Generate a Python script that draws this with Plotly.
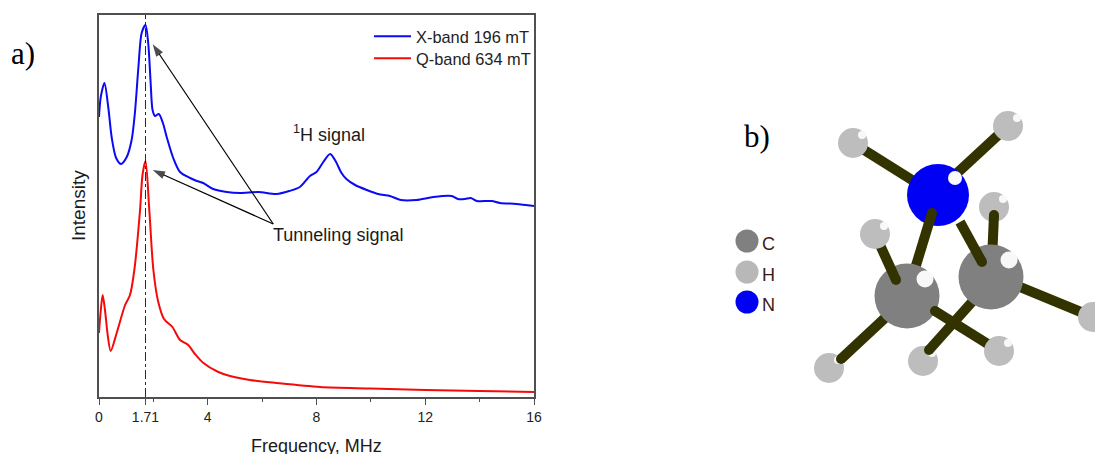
import plotly.graph_objects as go

# --- chart data (intensity in arbitrary units, frequency in MHz)
blue_name = "X-band 196 mT"
blue_x = [0, 0.06, 0.2, 0.34, 0.47, 0.63, 0.81, 1.02, 1.2, 1.32, 1.45, 1.57, 1.71, 1.81, 1.9, 1.97, 2.06, 2.2, 2.35, 2.49, 2.73,
          2.98, 3.35, 3.6, 3.83, 4.2, 4.7, 5.19, 5.86, 6.53, 7.0, 7.39, 7.76, 8.0, 8.25, 8.5, 8.68, 8.92, 9.1, 9.42,
          9.85, 10.27, 10.7, 11.1, 11.68, 12.3, 12.97, 13.2, 13.46, 13.67, 13.9, 14.44, 14.75, 15.35, 16]
blue_y = [280, 299, 314, 290, 259, 239, 233, 240, 257, 284, 330, 364, 372, 354, 314, 287, 281, 283, 274, 260, 239,
          225, 219, 216, 214, 208, 205, 204, 205, 203, 206, 210, 221, 225, 235, 243, 237, 224, 218, 212,
          207, 203, 201, 197, 197, 200, 201, 198, 198, 199, 196, 196, 194, 193, 191]
red_name = "Q-band 634 mT"
red_x = [0, 0.06, 0.135, 0.22, 0.32, 0.43, 0.65, 0.96, 1.14, 1.3, 1.51, 1.6, 1.71, 1.85, 2.0, 2.18, 2.39, 2.7, 2.98,
         3.28, 3.53, 3.84, 4.39, 4.82, 5.55, 6.53, 8.13, 10, 12, 14, 16]
red_y = [64, 85, 102, 87, 62, 46, 64, 92, 102, 127, 187, 222, 236, 187, 127, 95, 78, 70, 57,
         52, 43, 34, 25, 21, 17, 14, 10, 8.5, 7, 6, 5]
x_ticks = [0, 1.71, 4, 8, 12, 16]
x_tick_text = ["0", "1.71", "4", "8", "12", "16"]
x_minor = [2, 6, 10, 14]
marker_x = 1.71
arrow_tail = (6.41, 173)
arrow_tips = [(1.975, 352.7), (1.975, 227)]

# --- molecule scheme data (scheme units, y down)
h_back_x = [994, 923, 829]
h_back_y = [207, 361, 368]
h_front_x = [853, 1008, 875, 1093, 999]
h_front_y = [143, 126, 234, 317, 351]
n_atom = (938, 195)
c_atoms_x = [907, 991]
c_atoms_y = [296, 277]
key_labels = ["C", "H", "N"]
key_colors = ["#808080", "#b8b8b8", "#0000f5"]
key_y = [241, 272, 302]
back_bonds = [((853, 143), (912, 180)), ((1008, 126), (955, 175)), ((994, 215), (992, 260)),
              ((1093, 317), (1015, 285))]
mid_bonds = [((932, 213), (914, 272)), ((841, 359), (885, 318)), ((929, 350), (972, 302))]
front_bonds = [((896, 280), (875, 234)), ((935, 311), (999, 351)), ((982, 262), (960, 222))]

BOND = "#333300"
DARK = "#222222"

fig = go.Figure()

# --- panel a
fig.add_trace(go.Scatter(x=blue_x, y=blue_y, name=blue_name, mode="lines", legend="legend",
                         line=dict(color="#0a0af5", width=2, shape="spline", smoothing=0.8)))
fig.add_trace(go.Scatter(x=red_x, y=red_y, name=red_name, mode="lines", legend="legend2",
                         line=dict(color="#f50a0a", width=2, shape="spline", smoothing=0.8)))
fig.add_trace(go.Scatter(x=[marker_x, marker_x], y=[0, 382], mode="lines", showlegend=False,
                         line=dict(color="#111111", width=0.9, dash="dashdot")))
for tip in arrow_tips:
    fig.add_trace(go.Scatter(x=[arrow_tail[0], tip[0]], y=[arrow_tail[1], tip[1]], mode="lines+markers",
                             showlegend=False, line=dict(color="#000000", width=1.2),
                             marker=dict(symbol="arrow", angleref="previous", size=[0, 13], color="#000000",
                                         line=dict(width=0))))


def dot(xs, ys, size, color, opacity=1.0):
    fig.add_trace(go.Scatter(x=xs, y=ys, mode="markers", showlegend=False, xaxis="x2", yaxis="y2",
                             marker=dict(size=size, color=color, opacity=opacity, line=dict(width=0))))


def rods(pairs):
    for (a, b) in pairs:
        fig.add_trace(go.Scatter(x=[a[0], b[0]], y=[a[1], b[1]], mode="lines", showlegend=False,
                                 xaxis="x2", yaxis="y2", line=dict(color=BOND, width=10)))
        dot([a[0]], [a[1]], 10, BOND)


def hydrogens(xs, ys):
    dot(xs, ys, 30, "#bdbdbd")
    dot([v + 9 for v in xs], [v - 8 for v in ys], 8, "#f8f8f8")


# --- panel b
hydrogens(h_back_x, h_back_y)
rods(back_bonds)
dot([n_atom[0]], [n_atom[1]], 62, key_colors[2])
dot([n_atom[0] + 17], [n_atom[1] - 17], 14, "#fbfbff")
rods(mid_bonds)
dot(c_atoms_x, c_atoms_y, 65, "#808080")
dot([v + 18 for v in c_atoms_x], [v - 17 for v in c_atoms_y], 17, "#f8f8f8")
rods(front_bonds)
hydrogens(h_front_x, h_front_y)
dot([747] * 3, key_y, 23, key_colors)


def label(x, y, text, size, family="Liberation Sans", color="#1a1a1a", angle=0):
    return dict(x=x, y=y, xref="x2", yref="y2", text=text, showarrow=False, textangle=angle,
                font=dict(family=family, size=size, color=color), xanchor="center", yanchor="middle")


annotations = [
    label(338, 235, "Tunneling signal", 18),
    label(329, 133, "<sup>1</sup>H signal", 18),
    label(78, 206, "Intensity", 19),
    label(316, 446, "Frequency, MHz", 18),
    label(23, 53, "a)", 31, "Liberation Serif", "#000000"),
    label(757, 136, "b)", 31, "Liberation Serif", "#000000"),
]
annotations[2]["textangle"] = -90
annotations += [label(768, v + 3, t, 18, color="#3a1a1a") for t, v in zip(key_labels, key_y)]

axis_line = dict(showline=True, linecolor="#505050", linewidth=1.6, mirror=True, showgrid=False, zeroline=False)
legend_style = dict(xanchor="left", yanchor="top", bgcolor="rgba(0,0,0,0)",
                    font=dict(size=16.4, color=DARK), itemwidth=37)

fig.update_layout(
    width=1095, height=454, margin=dict(l=0, r=0, t=0, b=0, autoexpand=False), autosize=False,
    paper_bgcolor="white", plot_bgcolor="rgba(0,0,0,0)",
    font=dict(family="Liberation Sans", color="#222222"),
    xaxis=dict(domain=[99 / 1095, 534 / 1095], range=[0, 16], tickmode="array", tickvals=x_ticks,
               ticktext=x_tick_text, ticks="outside", ticklen=6, tickwidth=1.2,
               tickcolor="#505050", tickfont=dict(size=14, color=DARK),
               minor=dict(tickmode="array", tickvals=x_minor, ticks="outside", ticklen=3, tickcolor="#505050"),
               **axis_line),
    yaxis=dict(domain=[1 - 397 / 454, 1 - 15 / 454], range=[0, 382], showticklabels=False, ticks="", **axis_line),
    xaxis2=dict(domain=[0, 1], range=[0, 1095], visible=False, anchor="y2"),
    yaxis2=dict(domain=[0, 1], range=[454, 0], visible=False, anchor="x2"),
    legend=dict(x=369 / 1095, y=1 - 19 / 454, **legend_style),
    legend2=dict(x=369 / 1095, y=1 - 41 / 454, **legend_style),
    annotations=annotations,
    showlegend=True,
)

fig.write_html("out.html", config=dict(displayModeBar=False), default_width="1095px", default_height="454px",
               post_script="document.body.style.margin='0';document.documentElement.style.overflow='hidden';")
